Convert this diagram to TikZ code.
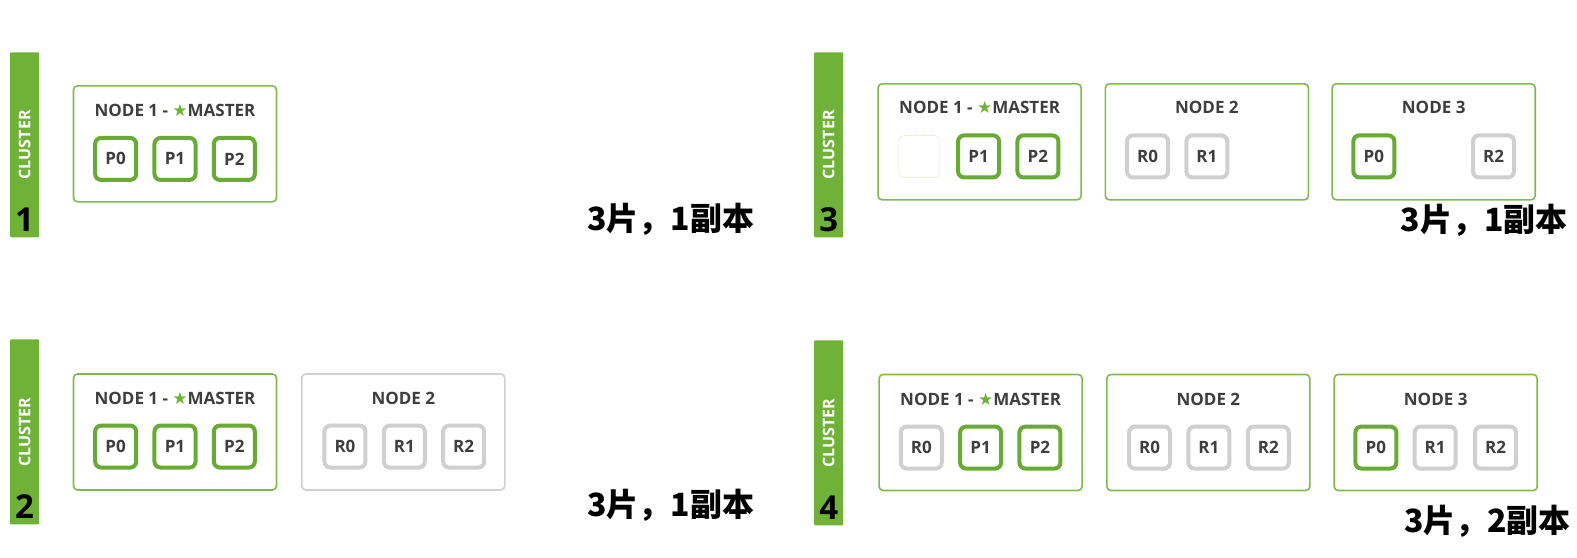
\documentclass[tikz,border=0pt]{standalone}
\usepackage{fontspec}
\usepackage{tikz}
\usetikzlibrary{positioning}
\setmainfont{Open Sans}
\newfontfamily\cjk{Noto Sans CJK SC}
\newfontfamily\symb{DejaVu Sans}
\definecolor{clgreen}{RGB}{112,178,56}
\definecolor{boxgreen}{RGB}{128,186,76}
\definecolor{shgreen}{RGB}{104,170,52}
\definecolor{shgray}{RGB}{208,208,208}
\definecolor{txtgray}{RGB}{62,62,62}
\newcommand{\masterlabel}{NODE 1 - {\symb\fontsize{17}{17}\selectfont\color{clgreen}★}MASTER}
\tikzset{
  clusterbar/.style={fill=clgreen, minimum width=29pt, minimum height=185pt, inner sep=0pt, rounded corners=1pt},
  clustertext/.style={rotate=90, text=white, font=\fontsize{16}{16}\selectfont\bfseries, inner sep=0pt},
  clusternum/.style={text=black, font=\fontsize{33}{33}\selectfont\bfseries, inner sep=0pt},
  nodebox/.style={draw=boxgreen, line width=1.6pt, rounded corners=4pt, minimum width=203pt, minimum height=116pt, inner sep=0pt},
  graybox/.style={nodebox, draw=shgray},
  boxtitle/.style={text=txtgray, font=\fontsize{17}{17}\selectfont\bfseries, inner sep=0pt},
  pshard/.style={draw=shgreen, line width=4pt, fill=white, rounded corners=6pt, minimum width=41pt, minimum height=42pt, inner sep=0pt, text=txtgray, font=\fontsize{17}{17}\selectfont\bfseries},
  rshard/.style={pshard, draw=shgray},
  noshard/.style={pshard, draw=boxgreen!35, line width=0.8pt, densely dotted},
  caption/.style={text=black, font=\cjk\bfseries\fontsize{32}{32}\selectfont, inner sep=0pt}
}
\begin{document}
\begin{tikzpicture}[x=1.0057pt,y=-1.0057pt]
    \useasboundingbox (0,0) rectangle (1568,553.85);
    % panel 1
    \node[clusterbar] (bar1) at (24.5,144) {};
    \node[clustertext] (cl1) at (bar1.center) {CLUSTER};
    \node[clusternum, above=6pt of bar1.south] (num1) {1};
    \node[nodebox] (p1n1) at (174,143) {};
    \node[boxtitle] (p1t1) at (174,110) {\masterlabel};
    \foreach \s [count=\i] in {P0,P1,P2}
        \node[pshard] (p1n1s\i) at (56+59*\i,158) {\s};
    \node[caption] (cap1) at (667,218) {3片，1副本};
    % panel 2
    \node[clusterbar] (bar2) at (24.5,429.5) {};
    \node[clustertext] (cl2) at (bar2.center) {CLUSTER};
    \node[clusternum, above=6pt of bar2.south] (num2) {2};
    \node[nodebox] (p2n1) at (174,429.5) {};
    \node[boxtitle] (p2t1) at (174,396) {\masterlabel};
    \foreach \s [count=\i] in {P0,P1,P2}
        \node[pshard] (p2n1s\i) at (56+59*\i,444) {\s};
    \node[graybox] (p2n2) at (401,429.5) {};
    \node[boxtitle] (p2t2) at (401,396) {NODE 2};
    \foreach \s [count=\i] in {R0,R1,R2}
        \node[rshard] (p2n2s\i) at (284+59*\i,444) {\s};
    \node[caption] (cap2) at (667,502) {3片，1副本};
    % panel 3
    \node[clusterbar] (bar3) at (824,144) {};
    \node[clustertext] (cl3) at (bar3.center) {CLUSTER};
    \node[clusternum, above=6pt of bar3.south] (num3) {3};
    \node[nodebox] (p3n1) at (974,141) {};
    \node[boxtitle] (p3t1) at (974,107) {\masterlabel};
    \node[noshard] (p3n1s1) at (914,155.5) {};
    \node[pshard] (p3n1s2) at (973,155.5) {P1};
    \node[pshard] (p3n1s3) at (1032,155.5) {P2};
    \node[nodebox] (p3n2) at (1200,141) {};
    \node[boxtitle] (p3t2) at (1200,107) {NODE 2};
    \node[rshard] (p3n2s1) at (1141,155.5) {R0};
    \node[rshard] (p3n2s2) at (1200,155.5) {R1};
    \node[nodebox] (p3n3) at (1425.5,141) {};
    \node[boxtitle] (p3t3) at (1425.5,107) {NODE 3};
    \node[pshard] (p3n3s1) at (1366,155.5) {P0};
    \node[rshard] (p3n3s3) at (1485,155.5) {R2};
    \node[caption] (cap3) at (1476,219) {3片，1副本};
    % panel 4
    \node[clusterbar] (bar4) at (824,430.5) {};
    \node[clustertext] (cl4) at (bar4.center) {CLUSTER};
    \node[clusternum, above=6pt of bar4.south] (num4) {4};
    \node[nodebox] (p4n1) at (975,430) {};
    \node[boxtitle] (p4t1) at (975,397) {\masterlabel};
    \node[rshard] (p4n1s1) at (916,445) {R0};
    \node[pshard] (p4n1s2) at (975,445) {P1};
    \node[pshard] (p4n1s3) at (1034,445) {P2};
    \node[nodebox] (p4n2) at (1201.5,430) {};
    \node[boxtitle] (p4t2) at (1201.5,397) {NODE 2};
    \foreach \s [count=\i] in {R0,R1,R2}
        \node[rshard] (p4n2s\i) at (1084+59*\i,445) {\s};
    \node[nodebox] (p4n3) at (1427.5,430) {};
    \node[boxtitle] (p4t3) at (1427.5,397) {NODE 3};
    \node[pshard] (p4n3s1) at (1368,445) {P0};
    \node[rshard] (p4n3s2) at (1427,445) {R1};
    \node[rshard] (p4n3s3) at (1487,445) {R2};
    \node[caption] (cap4) at (1479,518) {3片，2副本};
\end{tikzpicture}
\end{document}
